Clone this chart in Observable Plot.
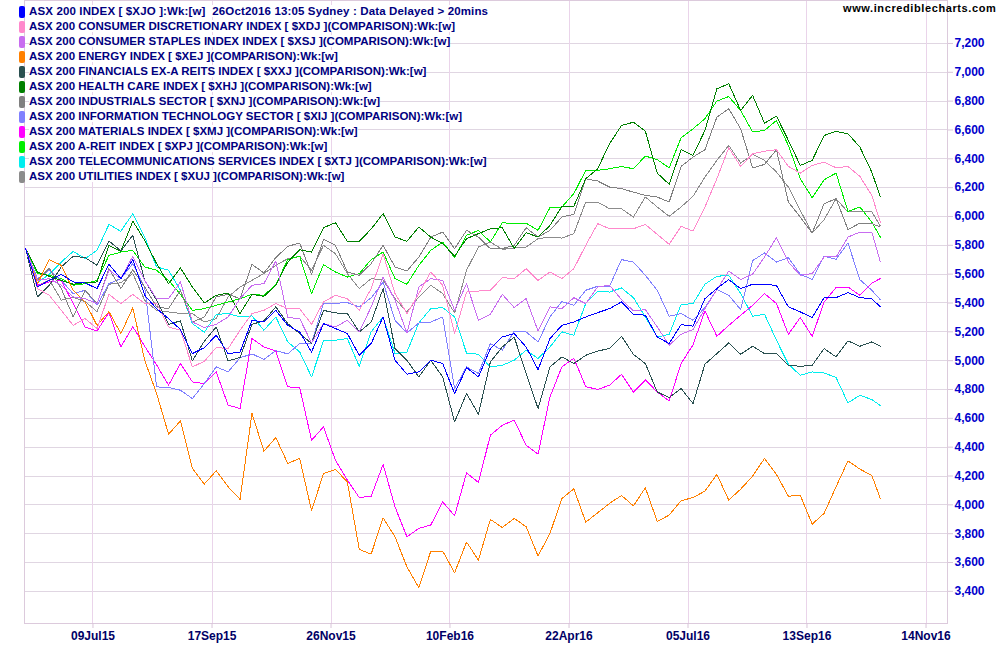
<!DOCTYPE html>
<html><head><meta charset="utf-8">
<script src="https://cdn.jsdelivr.net/npm/d3@7"></script>
<script src="https://cdn.jsdelivr.net/npm/@observablehq/plot@0.6"></script>
<style>
html,body{margin:0;padding:0;background:#fff;}
#wrap{position:relative;width:1000px;height:650px;overflow:hidden;font-family:"Liberation Sans",Arial,sans-serif;}
#chart{position:absolute;left:0;top:0;}
#legend{position:absolute;left:19px;top:3px;}
.row{height:15px;line-height:15px;white-space:pre;}
.box{display:inline-block;width:6px;height:12px;border-radius:2px;vertical-align:middle;margin-right:4px;}
.txt{background:#fff;color:#000080;font-weight:bold;font-size:11.5px;vertical-align:middle;}
.row.first .txt{letter-spacing:0.14px;}
#url{position:absolute;left:843px;top:2px;font-weight:bold;font-size:11px;color:#000;letter-spacing:0.6px;}
</style></head><body>
<div id="wrap"><div id="chart"></div><div id="legend"></div><div id="url">www.incrediblecharts.com</div></div>
<script>
// Week-ending dates (last one is the partial week to 26 Oct 2016)
const firstWeek = new Date(Date.UTC(2015, 5, 12));
const weekDates = d3.utcFriday.range(firstWeek, new Date(Date.UTC(2016, 9, 22))).concat([new Date(Date.UTC(2016, 9, 26))]);
const weekX = weekDates.map(d => (d - firstWeek) / (7 * 864e5));

const xTickWeeks = [5.66, 15.65, 25.63, 35.61, 45.6, 55.58, 65.56, 75.55];
const xTickLabels = ["09Jul15", "17Sep15", "26Nov15", "10Feb16", "22Apr16", "05Jul16", "13Sep16", "14Nov16"];
const yTicks = [3400, 3600, 3800, 4000, 4200, 4400, 4600, 4800, 5000, 5200, 5400, 5600, 5800, 6000, 6200, 6400, 6600, 6800, 7000, 7200];

const seriesNames = [
  "ASX 200 INDEX [ $XJO ]:Wk:[w]  26Oct2016 13:05 Sydney : Data Delayed > 20mins",
  "ASX 200 CONSUMER DISCRETIONARY INDEX [ $XDJ ](COMPARISON):Wk:[w]",
  "ASX 200 CONSUMER STAPLES INDEX INDEX [ $XSJ ](COMPARISON):Wk:[w]",
  "ASX 200 ENERGY INDEX [ $XEJ ](COMPARISON):Wk:[w]",
  "ASX 200 FINANCIALS EX-A REITS INDEX [ $XXJ ](COMPARISON):Wk:[w]",
  "ASX 200 HEALTH CARE INDEX [ $XHJ ](COMPARISON):Wk:[w]",
  "ASX 200 INDUSTRIALS SECTOR [ $XNJ ](COMPARISON):Wk:[w]",
  "ASX 200 INFORMATION TECHNOLOGY SECTOR [ $XIJ ](COMPARISON):Wk:[w]",
  "ASX 200 MATERIALS INDEX [ $XMJ ](COMPARISON):Wk:[w]",
  "ASX 200 A-REIT INDEX [ $XPJ ](COMPARISON):Wk:[w]",
  "ASX 200 TELECOMMUNICATIONS SERVICES INDEX [ $XTJ ](COMPARISON):Wk:[w]",
  "ASX 200 UTILITIES INDEX [ $XUJ ](COMPARISON):Wk:[w]"
];
const seriesColors = ["#0000ff", "#ff88cc", "#c86cf0", "#ff8000", "#2a5050", "#008000", "#808080", "#8080ff", "#ff00ff", "#00ee00", "#00eeee", "#8c8c8c"];

const xjo = [5780,5511,5557,5599,5546,5539,5500,5668,5569,5701,5453,5361,5292,5216,5049,5090,5176,5049,5060,5280,5268,5349,5245,5199,5060,5257,5223,5188,5037,5119,5303,5003,4906,4922,5003,4980,4772,4952,4887,5084,5164,5188,5095,4938,5153,5245,5268,5303,5333,5361,5407,5322,5315,5164,5119,5250,5239,5430,5500,5562,5500,5530,5530,5521,5373,5338,5299,5437,5437,5472,5437,5430,5373];
const xdj = [5780,5500,5453,5349,5245,5292,5223,5460,5396,5460,5396,5396,5234,5211,4957,4995,5091,5084,5211,5327,5349,5396,5361,5361,5252,5407,5453,5430,5349,5500,5740,5465,5327,5465,5615,5523,5188,5476,5483,5488,5576,5569,5638,5557,5615,5569,5638,5800,5950,5915,5915,5915,5945,5876,5807,5932,5899,6066,6262,6477,6347,6435,6453,6463,6347,6301,6354,6377,6338,6347,6278,6146,5961];
const xsj = [5780,5557,5569,5523,5442,5430,5396,5627,5569,5724,5557,5430,5430,5546,5268,5230,5252,5303,5430,5523,5534,5691,5299,5292,5123,5257,5234,5280,5199,5373,5580,5419,5192,5511,5569,5557,5349,5534,5280,5322,5460,5368,5430,5206,5373,5361,5437,5396,5511,5523,5423,5345,5354,5234,5107,5183,5216,5361,5493,5622,5562,5600,5719,5853,5684,5592,5604,5719,5719,5857,5892,5892,5684];
const xej = [5780,5534,5701,5661,5488,5407,5245,5340,5188,5366,5003,4772,4490,4582,4252,4144,4236,4125,4038,4634,4372,4467,4287,4322,3959,4218,4245,4160,3691,3658,3910,3778,3570,3425,3679,3679,3529,3742,3617,3899,3843,3906,3848,3645,3802,4044,4111,3880,3945,4010,4065,3993,4118,3885,3929,4028,4051,4095,4211,4033,4109,4199,4322,4211,4060,4065,3866,3941,4125,4305,4248,4204,4044];
const xxj = [5780,5442,5523,5650,5724,5715,5661,5830,5761,5869,5557,5419,5252,5276,4998,5135,5234,4998,5022,5252,5276,5373,5257,5188,5119,5349,5331,5327,5199,5268,5500,5084,5003,4887,5003,4887,4575,4772,4629,4991,5095,5164,4911,4668,4957,5026,4980,5037,5067,5084,5169,5044,4980,4783,4744,4807,4703,4975,5049,5123,5044,5100,5049,5049,4968,4961,4968,5084,5026,5137,5100,5130,5100];
const xhj = [5780,5615,5585,5557,5530,5541,5546,5800,5758,5968,5834,5673,5534,5643,5511,5400,5453,5469,5327,5460,5446,5523,5684,5770,5753,5922,5957,5828,5828,5913,6020,5857,5828,5927,5857,5812,5724,5846,5881,5915,5922,5777,5888,5857,5938,6070,6070,6262,6331,6505,6631,6654,6592,6301,6223,6463,6424,6597,6886,6920,6735,6840,6647,6696,6528,6354,6389,6562,6590,6574,6481,6308,6135];
const xnj = [5780,5560,5640,5500,5303,5488,5396,5638,5500,5631,5511,5373,5361,5488,5268,5303,5442,5460,5430,5668,5608,5715,5793,5816,5599,5841,5800,5615,5592,5673,5800,5650,5622,5719,5857,5892,5777,5904,5857,5777,5777,5800,5922,5857,5904,5996,6015,6262,6246,6204,6193,6169,6146,6135,6100,6347,6412,6463,6689,6747,6608,6337,6361,6463,6100,5996,5885,6089,6123,5909,5954,5950,5927];
const xij = [5780,5569,5627,5557,5465,5488,5384,5534,5569,5673,5511,4818,4814,4795,4737,4841,4957,4922,5020,5047,5009,5070,5047,5119,5121,5398,5398,5403,5372,5436,5545,5280,5192,5262,5268,5303,4807,4957,4911,5119,5072,5204,5199,5130,5303,5410,5384,5488,5516,5516,5701,5684,5592,5488,5308,5327,5280,5368,5493,5453,5354,5694,5747,5684,5714,5599,5564,5724,5703,5816,5562,5488,5423];
const xmj = [5780,5523,5546,5557,5396,5234,5206,5335,5095,5236,5100,4970,4830,4980,4853,4841,4922,4691,4668,5153,5095,5067,4818,4814,4448,4541,4310,4171,4051,4060,4280,3986,3778,3837,3860,4021,3924,4222,4155,4483,4552,4587,4414,4351,4749,4957,5017,4820,4800,4830,4905,4781,4866,4783,4720,4980,5110,5345,5169,5245,5315,5384,5465,5396,5183,5299,5169,5407,5507,5511,5453,5539,5569];
const xpj = [5780,5604,5592,5569,5523,5534,5557,5730,5753,5765,5650,5627,5557,5460,5349,5361,5384,5407,5430,5460,5453,5527,5701,5724,5465,5666,5615,5580,5604,5701,5753,5569,5530,5661,5765,5823,5715,5869,5904,5823,5957,5950,5954,5904,6061,6066,6158,6320,6320,6331,6347,6331,6419,6394,6338,6546,6608,6678,6800,6832,6735,6586,6597,6666,6493,6262,6130,6255,6301,6035,6066,5961,5857];
const xtj = [5780,5540,5600,5684,5758,5708,5765,5945,5897,6020,5857,5650,5627,5488,5257,5197,5320,5327,5303,5310,5211,5303,5130,5061,4887,5137,5142,5153,4961,5200,5303,5049,5060,5262,5361,5368,5303,5053,5044,4957,4968,5003,5072,5015,5095,5200,5176,5396,5481,5476,5504,5437,5303,5164,5183,5389,5396,5530,5585,5592,5465,5308,5322,5142,4975,4899,4922,4915,4883,4707,4760,4730,4689];
const xuj = [5780,5520,5560,5420,5440,5410,5340,5530,5540,5604,5419,5349,5338,5327,5327,5268,5292,5442,5511,5557,5604,5661,5707,5724,5627,5800,5742,5604,5500,5569,5560,5430,5338,5442,5523,5465,5331,5627,5788,5823,5772,5781,5788,5846,5857,5850,5881,6100,6100,6054,6054,5996,6135,6066,6001,6066,6140,6273,6389,6493,6370,6430,6389,6308,6204,6042,5885,5978,6123,6031,6038,6031,5934];

const seriesValues = [xjo, xdj, xsj, xej, xxj, xhj, xnj, xij, xmj, xpj, xtj, xuj];
const labelByWeek = new Map(xTickWeeks.map((w, i) => [w, xTickLabels[i]]));

const lineMarks = seriesValues.map((vals, k) =>
  Plot.line(vals, {x: (d, i) => weekX[i], y: d => d, stroke: seriesColors[k], strokeWidth: 1, shapeRendering: "crispEdges"})
).reverse();

const chart = Plot.plot({
  width: 1000, height: 650,
  marginLeft: 24, marginRight: 53, marginTop: 0, marginBottom: 27,
  style: {fontFamily: '"Liberation Sans", Arial, sans-serif', fontSize: "12px", background: "white"},
  x: {type: "linear", domain: [-0.084, 77.35]},
  y: {domain: [3177, 7498]},
  marks: [
    Plot.ruleY(yTicks, {stroke: "#e0d6e2", shapeRendering: "crispEdges"}),
    Plot.ruleX(xTickWeeks, {stroke: "#ead4ea", shapeRendering: "crispEdges"}),
    Plot.frame({stroke: "#dccadc", shapeRendering: "crispEdges"}),
    ...lineMarks,
    Plot.axisY(yTicks, {anchor: "right", tickSize: 5, tickPadding: 2, tickFormat: d3.format(","), fill: "#0000cc", stroke: "#d8c4d8", fontWeight: "bold", fontSize: 12, label: null}),
    Plot.axisX(xTickWeeks, {anchor: "bottom", tickSize: 5, tickPadding: 3, tickFormat: d => labelByWeek.get(d), fill: "#000066", stroke: "#d8c4d8", fontWeight: "bold", fontSize: 12, label: null})
  ]
});
document.getElementById("chart").appendChild(chart);

const legend = d3.select("#legend");
seriesNames.forEach((name, k) => {
  const row = legend.append("div").attr("class", k === 0 ? "row first" : "row");
  row.append("span").attr("class", "box").style("background", seriesColors[k]);
  row.append("span").attr("class", "txt").text(name);
});
</script>
</body></html>
